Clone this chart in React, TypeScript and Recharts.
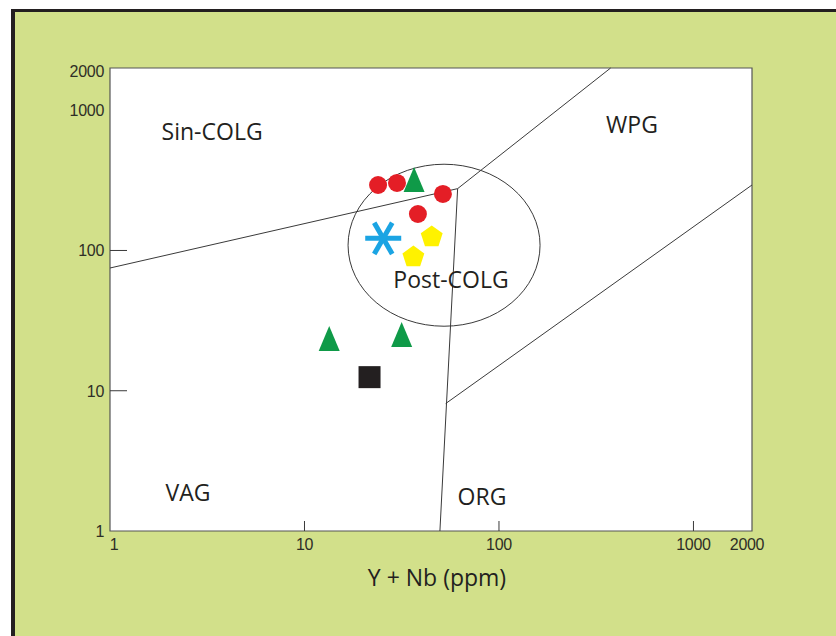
import React from 'react';
import {
  ScatterChart,
  Scatter,
  XAxis,
  YAxis,
  CartesianGrid,
  ReferenceLine,
  ReferenceArea
} from 'recharts';

// Rb vs (Y + Nb) discrimination diagram, log-log
const xTicks = [1, 10, 100, 1000, 2000];
const yTicks = [1, 10, 100, 1000, 2000];
const xTickMarks = [10, 100, 1000];
const yTickMarks = [10, 100];

// field boundaries (ppm)
const boundaries = [
  [{ x: 1, y: 75 }, { x: 61.3, y: 276 }],
  [{ x: 61.3, y: 276 }, { x: 375, y: 2000 }],
  [{ x: 61.3, y: 276 }, { x: 49.7, y: 1 }],
  [{ x: 53.2, y: 8.1 }, { x: 2000, y: 293 }]
];

const postColgCenter = [{ x: 52.2, y: 109 }];

const fieldLabels = [
  { x: 3.35, y: 700, label: 'Sin-COLG' },
  { x: 483, y: 785, label: 'WPG' },
  { x: 56.7, y: 61.6, label: 'Post-COLG' },
  { x: 2.52, y: 1.87, label: 'VAG' },
  { x: 81.8, y: 1.75, label: 'ORG' }
];

const redCircles = [
  { x: 23.9, y: 293 },
  { x: 29.9, y: 303 },
  { x: 51.5, y: 253 },
  { x: 38.3, y: 182 }
];
const greenTriangles = [
  { x: 36.6, y: 318 },
  { x: 13.4, y: 23.4 },
  { x: 31.6, y: 25.0 }
];
const blueStars = [{ x: 25.4, y: 122 }];
const yellowPentagons = [
  { x: 45.1, y: 127 },
  { x: 36.3, y: 91.4 }
];
const blackSquares = [{ x: 21.6, y: 12.5 }];

const INK = '#231f20';
const LINE = '#3a3a3a';
const TICK_FONT = 'Liberation Sans, Arial, sans-serif';

const XTick = (props: any) => {
  const { x, y, payload } = props;
  const v = payload.value;
  const dx = v === 1 ? 4 : v === 2000 ? -5 : 0;
  return (
    <g>
      {xTickMarks.includes(v) && <line x1={x} y1={y} x2={x} y2={y - 10} stroke={LINE} />}
      <text x={x + dx} y={y + 19} textAnchor="middle" fontSize={16} fill="#2e2e26" fontFamily={TICK_FONT} letterSpacing={-0.3}>
        {v}
      </text>
    </g>
  );
};

const YTick = (props: any) => {
  const { x, y, payload } = props;
  const v = payload.value;
  const dy = v === 2000 ? 3 : 0;
  return (
    <g>
      {yTickMarks.includes(v) && <line x1={x} y1={y} x2={x + 17} y2={y} stroke={LINE} />}
      <text x={x - 6} y={y + dy + 6} textAnchor="end" fontSize={16} fill="#2e2e26" fontFamily={TICK_FONT} letterSpacing={-0.3}>
        {v}
      </text>
    </g>
  );
};

const circleShape = (p: any) => <circle cx={p.cx} cy={p.cy} r={9} fill="#e41e26" />;

const triangleShape = (p: any) => (
  <polygon
    points={`${p.cx},${p.cy - 13} ${p.cx + 10.5},${p.cy + 12} ${p.cx - 10.5},${p.cy + 12}`}
    fill="#0f9a48"
  />
);

const squareShape = (p: any) => <rect x={p.cx - 11} y={p.cy - 11} width={22} height={22} fill={INK} />;

const pentagonShape = (p: any) => {
  const r = 11.5;
  const pts = [0, 1, 2, 3, 4]
    .map((i) => {
      const a = -Math.PI / 2 + (i * 2 * Math.PI) / 5;
      return `${p.cx + r * Math.cos(a)},${p.cy + 1 + r * Math.sin(a)}`;
    })
    .join(' ');
  return <polygon points={pts} fill="#fff200" />;
};

const starShape = (p: any) => {
  const r = 18;
  return (
    <g stroke="#1ba4e3" strokeWidth={5}>
      {[0, 60, 120].map((deg) => {
        const a = (deg * Math.PI) / 180;
        return (
          <line
            key={deg}
            x1={p.cx - r * Math.cos(a)}
            y1={p.cy - r * Math.sin(a)}
            x2={p.cx + r * Math.cos(a)}
            y2={p.cy + r * Math.sin(a)}
          />
        );
      })}
    </g>
  );
};

const ellipseShape = (p: any) => (
  <ellipse cx={p.cx} cy={p.cy} rx={96} ry={81} fill="none" stroke={LINE} strokeWidth={1} />
);

const labelShape = (p: any) => (
  <text
    x={p.cx}
    y={p.cy + 8}
    textAnchor="middle"
    fontSize={23}
    fill={INK}
    fontFamily="'Open Sans', 'Noto Sans', sans-serif"
  >
    {p.payload.label}
  </text>
);

export default function App() {
  return (
    <div style={{ position: 'fixed', left: 0, top: 0, width: 836, height: 636, background: '#fff', overflow: 'hidden' }}>
      <div
        style={{
          position: 'absolute',
          left: 11,
          top: 9,
          right: 0,
          bottom: 0,
          background: '#d2e08a',
          borderTop: `3px solid ${INK}`,
          borderLeft: `4px solid ${INK}`
        }}
      />
      <div style={{ position: 'absolute', left: 0, top: 0 }}>
        <ScatterChart width={836} height={636} margin={{ top: 68, right: 84, bottom: 0, left: 0 }}>
          <CartesianGrid horizontal={false} vertical={false} fill="#fff" fillOpacity={1} />
          <XAxis
            type="number"
            dataKey="x"
            scale="log"
            domain={[1, 2000]}
            ticks={xTicks}
            allowDataOverflow
            height={105}
            axisLine={false}
            tickLine={false}
            tickSize={0}
            tickMargin={0}
            tick={<XTick />}
            interval={0}
            label={{
              value: 'Y + Nb (ppm)',
              position: 'insideTop',
              offset: 39,
              dx: 6,
              fontSize: 23,
              fill: INK,
              fontFamily: "'Open Sans', 'Noto Sans', sans-serif"
            }}
          />
          <YAxis
            type="number"
            dataKey="y"
            scale="log"
            domain={[1, 2000]}
            ticks={yTicks}
            allowDataOverflow
            width={110}
            axisLine={false}
            tickLine={false}
            tickSize={0}
            tickMargin={0}
            tick={<YTick />}
            interval={0}
          />
          <ReferenceArea x1={1} x2={2000} y1={1} y2={2000} fill="none" stroke="#555" strokeWidth={1.2} />
          {boundaries.map((seg, i) => (
            <ReferenceLine key={i} segment={seg} stroke={LINE} strokeWidth={1} ifOverflow="visible" />
          ))}
          <Scatter data={postColgCenter} shape={ellipseShape} isAnimationActive={false} />
          <Scatter data={fieldLabels} shape={labelShape} isAnimationActive={false} />
          <Scatter data={redCircles} shape={circleShape} isAnimationActive={false} />
          <Scatter data={greenTriangles} shape={triangleShape} isAnimationActive={false} />
          <Scatter data={blueStars} shape={starShape} isAnimationActive={false} />
          <Scatter data={yellowPentagons} shape={pentagonShape} isAnimationActive={false} />
          <Scatter data={blackSquares} shape={squareShape} isAnimationActive={false} />
        </ScatterChart>
      </div>
    </div>
  );
}
